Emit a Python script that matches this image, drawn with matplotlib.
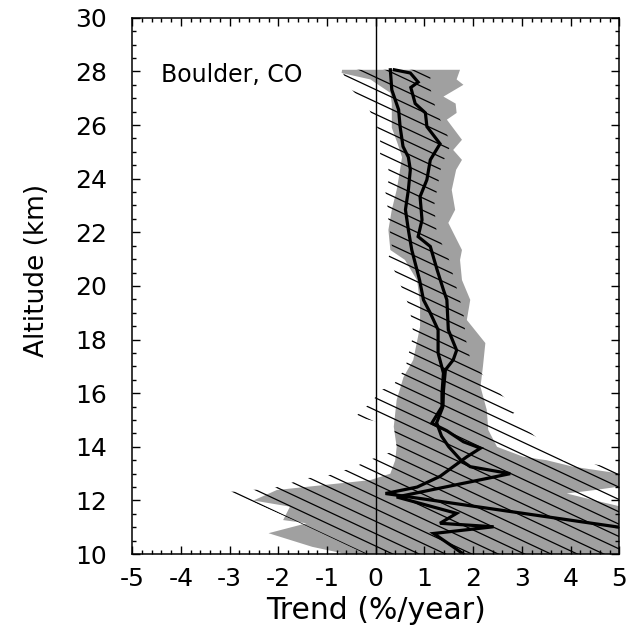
import numpy as np
import matplotlib
matplotlib.use("Agg")
import matplotlib.pyplot as plt
from matplotlib.patches import Polygon
from matplotlib.ticker import MultipleLocator

plt.rcParams['font.family'] = ['DejaVu Sans']
plt.rcParams['axes.unicode_minus'] = False

# stippled band (gray): left and right edges
g_left_alt = [28.06, 27.94, 27.7, 27.2, 26.8, 25.9, 25.3, 24.8, 24.0, 23.58, 22.84, 22.09,
              21.34, 20.97, 20.2, 19.36, 18.48, 17.24, 16.6, 15.75, 14.75, 14.0, 13.5, 13.0,
              12.76, 12.39, 12.0, 11.77, 11.27, 11.15, 10.78, 10.27, 10.0]
g_left_x = [-0.69, -0.70, -0.11, 0.30, 0.33, 0.33, 0.45, 0.54, 0.47, 0.43, 0.33, 0.26,
            0.30, 0.60, 0.85, 0.91, 0.91, 0.77, 0.57, 0.43, 0.37, 0.43, 0.40, 0.30,
            -0.11, -2.03, -2.51, -1.76, -1.90, -1.42, -2.20, -1.30, -0.60]
g_right_alt = [10.0, 11.7, 12.0, 12.26, 12.39, 12.57, 13.0, 13.26, 13.5, 13.63, 14.0, 14.63,
               15.37, 16.24, 16.99, 17.87, 18.73, 19.48, 20.22, 20.97, 21.34, 22.35, 22.84,
               23.58, 24.33, 24.7, 25.07, 25.45, 26.2, 26.45, 26.8, 27.06, 27.5, 27.7, 28.06]
g_right_x = [5.2, 5.2, 4.5, 3.92, 4.5, 5.2, 5.02, 4.05, 3.51, 3.03, 2.49, 2.31,
             2.28, 2.15, 2.20, 2.25, 1.87, 1.94, 1.77, 1.73, 1.77, 1.49, 1.63,
             1.56, 1.65, 1.77, 1.59, 1.77, 1.46, 1.66, 1.64, 1.39, 1.80, 1.66, 1.73]

# hatched band: left and right edges
h_left_alt = [28.06, 27.46, 26.63, 26.0, 25.45, 24.9, 24.4, 23.9, 23.5, 23.0, 22.46, 21.5,
              21.04, 20.5, 19.9, 19.3, 18.73, 18.17, 17.43, 16.94, 16.3, 16.1, 15.75, 15.45,
              15.12, 14.8, 14.0, 13.88, 13.7, 13.5, 13.26, 13.07, 12.88, 12.83, 12.64, 12.46,
              12.39, 12.32, 11.2, 10.0]
h_left_x = [-0.70, -0.56, -0.15, 0.02, 0.09, 0.09, 0.26, 0.26, 0.20, 0.24, 0.26, 0.33,
            0.26, 0.40, 0.54, 0.67, 0.74, 0.77, 0.67, 0.61, 0.36, 0.09, -0.05, -0.22,
            -0.42, 0.37, 0.43, 0.43, 0.16, -0.15, -0.42, -0.73, -1.08, -1.45, -1.76, -2.10,
            -2.54, -2.99, -1.60, -0.20]
h_right_alt = [10.0, 13.1, 13.5, 14.5, 15.07, 15.37, 16.3, 17.2, 18.0, 19.0, 20.0, 21.0,
               22.0, 23.0, 24.5, 25.3, 26.5, 27.5, 28.06]
h_right_x = [5.5, 5.5, 3.85, 3.2, 2.72, 2.90, 2.38, 1.95, 1.85, 1.80, 1.65, 1.50,
             1.25, 1.20, 1.35, 1.55, 1.25, 1.10, 1.15]

# trend profiles
l1_alt = [28.06, 27.31, 26.57, 25.94, 25.45, 25.2, 24.8, 24.33, 23.58, 22.84, 22.09, 21.34,
          20.22, 19.48, 18.99, 18.36, 17.5, 16.75, 16.0, 15.5, 14.88, 14.6, 14.19, 13.95,
          13.63, 13.26, 12.9, 12.5, 12.26, 10.95]
l1_x = [0.30, 0.33, 0.47, 0.50, 0.54, 0.56, 0.67, 0.71, 0.67, 0.61, 0.67, 0.74,
        0.90, 0.98, 1.12, 1.28, 1.28, 1.39, 1.36, 1.36, 1.15, 1.46, 1.80, 2.15,
        1.87, 1.59, 1.32, 0.85, 0.20, 5.2]
l2_alt = [28.06, 27.94, 27.6, 27.4, 26.8, 26.45, 25.94, 25.3, 24.7, 23.96, 23.33, 22.46,
          21.84, 21.47, 20.6, 19.85, 19.48, 18.36, 17.6, 17.24, 16.87, 16.1, 15.5, 14.9,
          14.4, 14.0, 13.5, 13.26, 13.0, 12.13, 11.52, 11.15, 11.02, 10.77, 10.27, 10.0]
l2_x = [0.38, 0.71, 0.87, 0.72, 0.81, 1.02, 1.05, 1.32, 1.12, 1.05, 0.91, 0.95,
        0.87, 1.12, 1.26, 1.39, 1.46, 1.49, 1.66, 1.59, 1.43, 1.39, 1.38, 1.25,
        1.35, 1.50, 1.75, 1.94, 2.76, 0.43, 1.66, 1.32, 2.42, 1.19, 1.59, 1.80]

fig = plt.figure(figsize=(6.32, 6.34), dpi=100)
ax = fig.add_axes([0.209, 0.126, 0.771, 0.846])

# stipple band
ax.fill(g_left_x + g_right_x, g_left_alt + g_right_alt,
        facecolor='#a0a0a0', edgecolor='none', zorder=1)

# hatched band: flat diagonal lines clipped to the band outline
hatch_poly = Polygon(np.column_stack([h_left_x + h_right_x, h_left_alt + h_right_alt]),
                     closed=True, facecolor='none', edgecolor='none')
ax.add_patch(hatch_poly)
slope = -0.85
for c in np.arange(8.0, 36.0, 0.46):
    xs = np.array([-6.0, 6.0])
    ln, = ax.plot(xs, c + slope * xs, color='black', lw=0.9, zorder=2)
    ln.set_clip_path(hatch_poly)

ax.axvline(0, color='black', lw=1.0, zorder=2.5)

ax.plot(l1_x, l1_alt, color='black', lw=2.3, zorder=3, solid_joinstyle='miter')
ax.plot(l2_x, l2_alt, color='black', lw=2.3, zorder=3, solid_joinstyle='miter')

ax.text(-4.4, 27.85, 'Boulder, CO', fontsize=17, va='center', ha='left')

ax.set_xlim(-5, 5)
ax.set_ylim(10, 30)
ax.xaxis.set_major_locator(MultipleLocator(1))
ax.xaxis.set_minor_locator(MultipleLocator(0.2))
ax.yaxis.set_major_locator(MultipleLocator(2))
ax.yaxis.set_minor_locator(MultipleLocator(0.5))
ax.tick_params(which='both', direction='in', top=True, right=True, width=1.0)
ax.tick_params(which='major', length=6)
ax.tick_params(which='minor', length=3)
ax.tick_params(axis='x', labelsize=18, pad=9)
ax.tick_params(axis='y', labelsize=18, pad=18)
for s in ax.spines.values():
    s.set_linewidth(1.1)

ax.set_xlabel('Trend (%/year)', fontsize=21.5, labelpad=4)
ax.set_ylabel('Altitude (km)', fontsize=19)
ax.yaxis.set_label_coords(-0.168, 0.528)

fig.savefig('out.png', dpi=100)
